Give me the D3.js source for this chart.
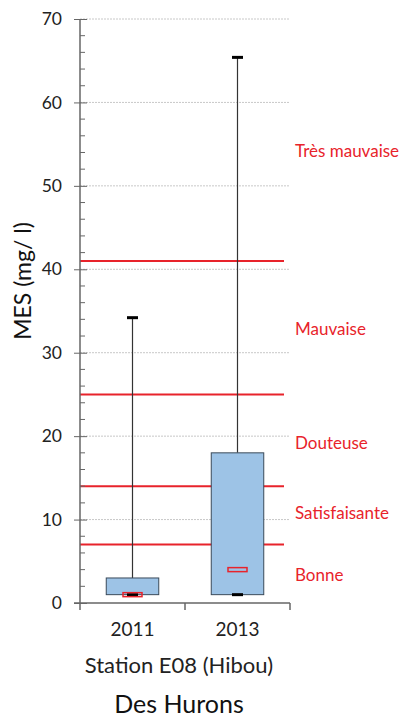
<!DOCTYPE html>
<html>
  <head>
    <meta charset="utf-8" />
    <title>MES - Des Hurons</title>
    <script src="https://d3js.org/d3.v7.min.js"></script>
    <style>
      body {
        margin: 0;
        background-color: white;
      }
      text {
        font-family: Lato, "Open Sans", sans-serif;
      }
    </style>
  </head>
  <body>
    <svg id="chart">
      <g id="grid"></g>
      <g id="thresholds"></g>
      <g id="boxes"></g>
      <g id="x"></g>
      <g id="y"></g>
      <g id="labels"></g>
    </svg>

    <script>

      // data
      var years = ["2011", "2013"];
      var whiskerMin = [1, 1];
      var boxLow = [1, 1];
      var boxHigh = [3, 18];
      var markerValue = [1, 4];
      var whiskerMax = [34.2, 65.4];

      var yTicks = [0, 10, 20, 30, 40, 50, 60, 70];
      var thresholdValues = [7, 14, 25, 41];
      var classNames = ["Bonne", "Satisfaisante", "Douteuse", "Mauvaise", "Très mauvaise"];
      var classPositions = [3.4, 10.8, 19.2, 32.8, 54.2];

      var width = 404;
      var height = 721;
      var margin = {
        top: 19,
        left: 80,
        right: 114,
        bottom: 118
      };

      var svg = d3.select("#chart")
        .attr("width", width)
        .attr("height", height);

      var y = d3.scaleLinear()
        .domain([0, 70])
        .range([height - margin.bottom, margin.top]);

      var x = d3.scaleBand()
        .domain(years)
        .range([margin.left, width - margin.right])
        .paddingInner(0)
        .paddingOuter(0);

      var band = x.bandwidth();

      // dotted gridlines
      svg.select("#grid").selectAll("line")
        .data(yTicks.slice(1))
        .enter().append("line")
        .attr("x1", margin.left)
        .attr("x2", width - margin.right)
        .attr("y1", function(d) { return y(d); })
        .attr("y2", function(d) { return y(d); })
        .attr("stroke", "#c8c8c8")
        .attr("stroke-width", 1)
        .attr("stroke-dasharray", "2,1");

      // red quality thresholds
      svg.select("#thresholds").selectAll("line")
        .data(thresholdValues)
        .enter().append("line")
        .attr("x1", margin.left)
        .attr("x2", width - margin.right - 6)
        .attr("y1", function(d) { return y(d); })
        .attr("y2", function(d) { return y(d); })
        .attr("stroke", "#e8232b")
        .attr("stroke-width", 2);

      // boxes
      var boxWidth = band * 0.5;
      var g = svg.select("#boxes").selectAll("g")
        .data(years)
        .enter().append("g");

      function cx(i) {
        return x(years[i]) + band / 2;
      }

      g.append("line")
        .attr("x1", function(d, i) { return cx(i); })
        .attr("x2", function(d, i) { return cx(i); })
        .attr("y1", function(d, i) { return y(whiskerMax[i]); })
        .attr("y2", function(d, i) { return y(boxHigh[i]); })
        .attr("stroke", "#333")
        .attr("stroke-width", 1.2);

      g.append("rect")
        .attr("x", function(d, i) { return cx(i) - boxWidth / 2; })
        .attr("width", boxWidth)
        .attr("y", function(d, i) { return y(boxHigh[i]); })
        .attr("height", function(d, i) { return y(boxLow[i]) - y(boxHigh[i]); })
        .attr("fill", "#9dc3e6")
        .attr("stroke", "#3a4a5a")
        .attr("stroke-width", 1);

      // whisker caps
      g.append("line")
        .attr("x1", function(d, i) { return cx(i) - 5.5; })
        .attr("x2", function(d, i) { return cx(i) + 5.5; })
        .attr("y1", function(d, i) { return y(whiskerMax[i]); })
        .attr("y2", function(d, i) { return y(whiskerMax[i]); })
        .attr("stroke", "black")
        .attr("stroke-width", 3);

      g.append("line")
        .attr("x1", function(d, i) { return cx(i) - 5.5; })
        .attr("x2", function(d, i) { return cx(i) + 5.5; })
        .attr("y1", function(d, i) { return y(whiskerMin[i]); })
        .attr("y2", function(d, i) { return y(whiskerMin[i]); })
        .attr("stroke", "black")
        .attr("stroke-width", 3);

      // red marker
      g.append("rect")
        .attr("x", function(d, i) { return cx(i) - 9.5; })
        .attr("width", 19)
        .attr("y", function(d, i) { return y(markerValue[i]) - 2; })
        .attr("height", 4)
        .attr("fill", "none")
        .attr("stroke", "#e8232b")
        .attr("stroke-width", 1.5);

      // y axis
      var yAxis = d3.axisLeft(y)
        .tickValues(yTicks)
        .tickSize(6)
        .tickPadding(12);
      var yG = svg.select("#y")
        .attr("transform", "translate(" + margin.left + ",0)")
        .call(yAxis);
      yG.select(".domain").attr("stroke", "#666").attr("stroke-width", 1.5)
        .attr("d", "M0," + y(0) + "V" + y(70));
      yG.selectAll(".tick line").attr("stroke", "#666").attr("x1", 7).attr("x2", -6);
      yG.selectAll(".tick text")
        .attr("font-size", "17.5px")
        .attr("font-family", "Lato, sans-serif")
        .attr("fill", "#222");

      // minor ticks
      var minor = d3.range(0, 71, 2).filter(function(d) { return d % 10 !== 0; });
      yG.selectAll(".minor")
        .data(minor)
        .enter().append("line")
        .attr("class", "minor")
        .attr("x1", 0)
        .attr("x2", 5)
        .attr("y1", function(d) { return y(d); })
        .attr("y2", function(d) { return y(d); })
        .attr("stroke", "#666");

      // x axis
      var xAxis = d3.axisBottom(x).tickSize(0).tickPadding(20);
      var xG = svg.select("#x")
        .attr("transform", "translate(0," + y(0) + ")")
        .call(xAxis);
      xG.select(".domain").attr("stroke", "#666").attr("stroke-width", 1.5)
        .attr("d", "M" + (margin.left - 6) + ",0H" + (width - margin.right));
      xG.selectAll(".tick text")
        .attr("font-size", "19px")
        .attr("font-family", "Lato, sans-serif")
        .attr("fill", "#222");
      xG.selectAll(".sep")
        .data([0, 1, 2])
        .enter().append("line")
        .attr("class", "sep")
        .attr("x1", function(d) { return margin.left + d * band; })
        .attr("x2", function(d) { return margin.left + d * band; })
        .attr("y1", 0)
        .attr("y2", 7)
        .attr("stroke", "#666")
        .attr("stroke-width", 1.5);

      // labels
      var labels = svg.select("#labels");

      labels.selectAll(".cls")
        .data(classNames)
        .enter().append("text")
        .attr("class", "cls")
        .attr("x", width - margin.right + 5)
        .attr("y", function(d, i) { return y(classPositions[i]); })
        .attr("dy", "0.35em")
        .attr("font-size", "17px")
        .attr("fill", "#e8232b")
        .text(function(d) { return d; });

      labels.append("text")
        .attr("transform", "translate(31,281) rotate(-90)")
        .attr("text-anchor", "middle")
        .attr("font-size", "23px")
        .attr("fill", "#111")
        .text("MES (mg/ l)");

      labels.append("text")
        .attr("x", margin.left + band - 6)
        .attr("y", 673)
        .attr("text-anchor", "middle")
        .attr("font-size", "22px")
        .attr("fill", "#222")
        .text("Station E08 (Hibou)");

      labels.append("text")
        .attr("x", margin.left + band - 6)
        .attr("y", 713)
        .attr("text-anchor", "middle")
        .attr("font-size", "25px")
        .attr("fill", "#111")
        .text("Des Hurons");

    </script>
  </body>
</html>
